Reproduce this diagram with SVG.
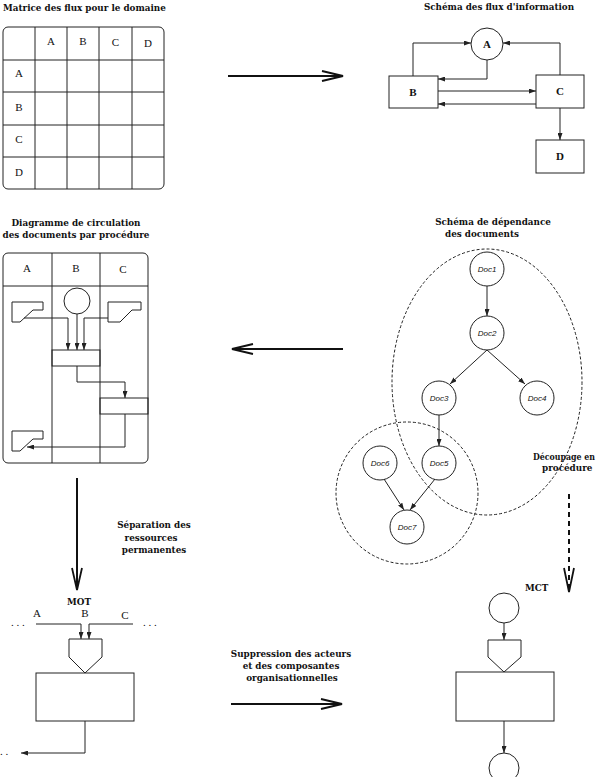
<svg xmlns="http://www.w3.org/2000/svg" width="603" height="777" viewBox="0 0 603 777">
<style>
.t{font-family:"DejaVu Serif","Liberation Serif",serif;font-weight:bold;font-size:8.8px;fill:#111}
.l{font-family:"Liberation Serif",serif;font-size:11px;fill:#111}
.lb{font-family:"Liberation Serif",serif;font-size:11px;font-weight:bold;fill:#111}
.d{font-family:"Liberation Sans",sans-serif;font-style:italic;font-size:8px;fill:#111}
.s{fill:none;stroke:#222;stroke-width:1}
.w{fill:#fff;stroke:#222;stroke-width:1}
.dash{fill:none;stroke:#222;stroke-width:1;stroke-dasharray:3,2}
.big{fill:none;stroke:#111;stroke-width:2}
.head{fill:none;stroke:#111;stroke-width:1.8;stroke-linejoin:miter}
</style>
<defs>
<marker id="ar" markerUnits="userSpaceOnUse" markerWidth="7" markerHeight="5" refX="7" refY="2.5" orient="auto">
<path d="M0,0 L7,2.5 L0,5 z" fill="#222"/>
</marker>
</defs>
<rect width="603" height="777" fill="#fff"/>

<!-- Titles -->
<g id="titles">
<text class="t" x="3" y="11">Matrice des flux pour le domaine</text>
<text class="t" x="499" y="10" text-anchor="middle">Schéma des flux d'information</text>
<text class="t" x="76" y="226" text-anchor="middle">Diagramme de circulation</text>
<text class="t" x="76" y="238" text-anchor="middle">des documents par procédure</text>
<text class="t" x="493" y="225" text-anchor="middle">Schéma de dépendance</text>
<text class="t" x="482" y="237" text-anchor="middle">des documents</text>
<text class="t" x="533" y="460" textLength="62" lengthAdjust="spacingAndGlyphs">Découpage en</text>
<text class="t" x="542" y="471">procédure</text>
<text class="t" x="154" y="528" text-anchor="middle">Séparation des</text>
<text class="t" x="151" y="541" text-anchor="middle">ressources</text>
<text class="t" x="154" y="553" text-anchor="middle">permanentes</text>
<text class="t" x="291" y="657" text-anchor="middle">Suppression des acteurs</text>
<text class="t" x="291" y="669" text-anchor="middle">et des composantes</text>
<text class="t" x="292" y="681" text-anchor="middle">organisationnelles</text>
</g>

<!-- Matrix -->
<g id="matrix">
<rect class="s" x="3" y="27" width="161" height="162" rx="5"/>
<path class="s" d="M35,27V189M67,27V189M99,27V189M132,27V189M3,60H164M3,92H164M3,125H164M3,157H164"/>
<text class="l" x="51" y="45" text-anchor="middle">A</text>
<text class="l" x="83" y="45" text-anchor="middle">B</text>
<text class="l" x="115.5" y="46" text-anchor="middle">C</text>
<text class="l" x="148" y="47" text-anchor="middle">D</text>
<text class="l" x="19" y="77" text-anchor="middle">A</text>
<text class="l" x="19" y="111" text-anchor="middle">B</text>
<text class="l" x="19" y="143" text-anchor="middle">C</text>
<text class="l" x="19" y="176" text-anchor="middle">D</text>
</g>

<!-- Flux diagram -->
<g id="flux-A"><circle class="w" cx="487" cy="44" r="16"/><text class="lb" x="487" y="48" text-anchor="middle">A</text></g>
<g id="flux-B"><rect class="w" x="389" y="76" width="49" height="32"/><text class="lb" x="413" y="96" text-anchor="middle">B</text></g>
<g id="flux-C"><rect class="w" x="536" y="75" width="48" height="33"/><text class="lb" x="560" y="95" text-anchor="middle">C</text></g>
<g id="flux-D"><rect class="w" x="536" y="140" width="48" height="33"/><text class="lb" x="560" y="160" text-anchor="middle">D</text></g>

<!-- Circulation diagram -->
<g id="circulation">
<rect class="s" x="3" y="253" width="145" height="210" rx="5"/>
<path class="s" d="M52,253V463M100,253V463M3,286H148"/>
<text class="l" x="27" y="272" text-anchor="middle">A</text>
<text class="l" x="76" y="272" text-anchor="middle">B</text>
<text class="l" x="123" y="273" text-anchor="middle">C</text>
<circle class="w" cx="77" cy="301" r="13"/>
<path class="s" d="M12,302H43V310H33L20,322H12Z"/>
<path class="s" d="M108,302H141V310H132L120,322H108Z"/>
<path class="s" d="M12,431H43V439H33L20,451H12Z"/>
<rect class="s" x="52" y="350" width="48" height="16"/>
<rect class="s" x="100" y="398" width="48" height="16"/>
</g>

<!-- Dependency diagram -->
<g id="dep-groups">
<ellipse class="dash" cx="487" cy="382" rx="95" ry="133"/>
<circle class="dash" cx="407" cy="493" r="71"/>
</g>
<g id="doc1"><circle class="w" cx="487" cy="269" r="17"/><text class="d" x="487" y="272" text-anchor="middle">Doc1</text></g>
<g id="doc2"><circle class="w" cx="487" cy="333" r="17"/><text class="d" x="487" y="336" text-anchor="middle">Doc2</text></g>
<g id="doc3"><circle class="w" cx="439" cy="398" r="17"/><text class="d" x="439" y="401" text-anchor="middle">Doc3</text></g>
<g id="doc4"><circle class="w" cx="537" cy="398" r="17"/><text class="d" x="537" y="401" text-anchor="middle">Doc4</text></g>
<g id="doc5"><circle class="w" cx="439" cy="463" r="17"/><text class="d" x="439" y="466" text-anchor="middle">Doc5</text></g>
<g id="doc6"><circle class="w" cx="380" cy="463" r="17"/><text class="d" x="380" y="466" text-anchor="middle">Doc6</text></g>
<g id="doc7"><circle class="w" cx="407" cy="527" r="17"/><text class="d" x="407" y="530" text-anchor="middle">Doc7</text></g>

<!-- MOT -->
<g id="mot">
<text class="t" x="79" y="605" text-anchor="middle">MOT</text>
<text class="l" x="37" y="617" text-anchor="middle">A</text>
<text class="l" x="85" y="617" text-anchor="middle">B</text>
<text class="l" x="125" y="619" text-anchor="middle">C</text>
<text class="l" x="11" y="626" font-size="9">. . .</text>
<text class="l" x="143" y="626" font-size="9">. . .</text>
<path class="w" d="M69,639H102V657L85,673L69,657Z"/>
<rect class="w" x="36" y="673" width="98" height="48"/>
<text class="l" x="0" y="755" font-size="9">. .</text>
</g>

<!-- MCT -->
<g id="mct">
<text class="t" x="525" y="591">MCT</text>
<circle class="w" cx="504" cy="608" r="15"/>
<path class="w" d="M488,640H521V657L504,672L488,657Z"/>
<rect class="w" x="456" y="672" width="98" height="49"/>
<circle class="w" cx="504" cy="768" r="15"/>
</g>

<!-- Connectors -->
<g id="connectors">
<path class="s" d="M413,76V43H471" marker-end="url(#ar)"/>
<path class="s" d="M560,75V43H503" marker-end="url(#ar)"/>
<path class="s" d="M487,60V79H438" marker-end="url(#ar)"/>
<path class="s" d="M438,91H536" marker-end="url(#ar)"/>
<path class="s" d="M536,104H438" marker-end="url(#ar)"/>
<path class="s" d="M560,108V140" marker-end="url(#ar)"/>

<path class="s" d="M24,318H68V350" marker-end="url(#ar)"/>
<path class="s" d="M77,314V350" marker-end="url(#ar)"/>
<path class="s" d="M108,318H84V350" marker-end="url(#ar)"/>
<path class="s" d="M77,366V382H125V398" marker-end="url(#ar)"/>
<path class="s" d="M125,414V447H27" marker-end="url(#ar)"/>

<path class="s" d="M487,286V316" marker-end="url(#ar)"/>
<path class="s" d="M487,350L450,384" marker-end="url(#ar)"/>
<path class="s" d="M487,350L525,384" marker-end="url(#ar)"/>
<path class="s" d="M439,415V446" marker-end="url(#ar)"/>
<path class="s" d="M384,479L404,510" marker-end="url(#ar)"/>
<path class="s" d="M435,479L410,510" marker-end="url(#ar)"/>

<path class="s" d="M36,624H81V639" marker-end="url(#ar)"/>
<path class="s" d="M133,624H89V639" marker-end="url(#ar)"/>
<path class="s" d="M85,721V753H21" marker-end="url(#ar)"/>

<path class="s" d="M504,623V640" marker-end="url(#ar)"/>
<path class="s" d="M504,721V753" marker-end="url(#ar)"/>

<!-- big transition arrows -->
<path class="big" d="M228,76H342"/>
<path class="head" d="M322,71L343,76L322,81"/>
<path class="big" d="M343,349H233"/>
<path class="head" d="M253,344L232,349L253,354"/>
<path class="big" d="M77,478V589"/>
<path class="head" d="M72,568L77,590L82,568"/>
<path class="big" d="M231,704H341"/>
<path class="head" d="M321,699L342,704L321,709"/>
<path fill="none" stroke="#111" stroke-width="2" stroke-dasharray="5,4" d="M569,494V588"/>
<path class="head" d="M564,568L569,592L574,568"/>
</g>
</svg>
